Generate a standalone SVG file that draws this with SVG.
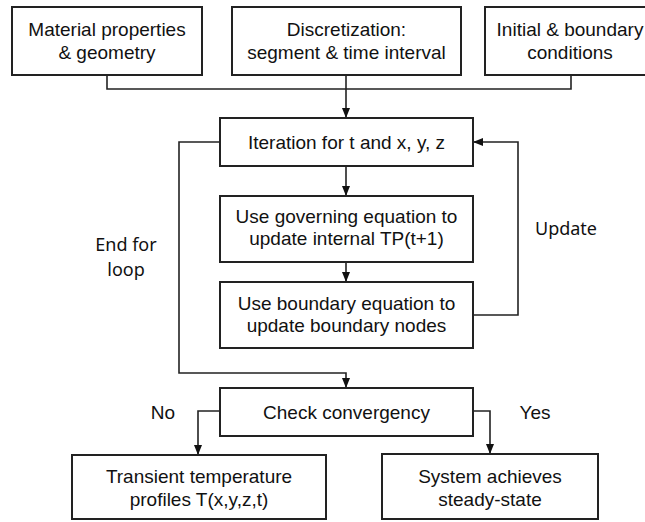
<svg xmlns="http://www.w3.org/2000/svg" width="645" height="522" viewBox="0 0 645 522">
  <defs>
    <marker id="arrow" viewBox="0 0 10 8" refX="10" refY="4" markerWidth="10" markerHeight="8" markerUnits="userSpaceOnUse" orient="auto">
      <path d="M0,0 L10,4 L0,8 Z" fill="#111"/>
    </marker>
    <style>
      .box { fill: #fff; stroke: #222; stroke-width: 2; }
      .t { font-family: "Liberation Sans", Arial, sans-serif; font-size: 19px; fill: #111; text-anchor: middle; }
      .lbl { font-family: "Noto Sans", "Open Sans", sans-serif; font-size: 18px; fill: #111; text-anchor: middle; }
      .wire { fill: none; stroke: #222; stroke-width: 1.6; }
    </style>
  </defs>
  <rect width="645" height="522" fill="#fff"/>

  <!-- connectors -->
  <g id="connectors">
    <polyline class="wire" points="107,75 107,89 571,89 571,75"/>
    <line class="wire" x1="346" y1="75" x2="346" y2="118" stroke-width="2" marker-end="url(#arrow)"/>
    <line class="wire" x1="346" y1="166" x2="346" y2="196" marker-end="url(#arrow)"/>
    <line class="wire" x1="346" y1="262" x2="346" y2="282" marker-end="url(#arrow)"/>
    <polyline class="wire" points="220,142 179,142 179,373 346,373 346,388" marker-end="url(#arrow)"/>
    <polyline class="wire" points="473,315 518,315 518,142 473,142" marker-end="url(#arrow)"/>
    <polyline class="wire" points="220,411 198,411 198,455" marker-end="url(#arrow)"/>
    <polyline class="wire" points="473,411 490,411 490,454" marker-end="url(#arrow)"/>
  </g>

  <!-- loop labels -->
  <g id="labels">
    <text class="lbl" x="126" y="251">End for</text>
    <text class="lbl" x="126" y="276">loop</text>
    <text class="lbl" x="566" y="235">Update</text>
    <text class="t" x="163" y="419">No</text>
    <text class="t" x="535" y="419">Yes</text>
  </g>

  <g id="material">
    <rect class="box" x="12" y="7" width="190" height="68"/>
    <text class="t" x="107" y="36">Material properties</text>
    <text class="t" x="107" y="59">&amp; geometry</text>
  </g>

  <g id="discretization">
    <rect class="box" x="232" y="7" width="229" height="68"/>
    <text class="t" x="346.5" y="36">Discretization:</text>
    <text class="t" x="346.5" y="59">segment &amp; time interval</text>
  </g>

  <g id="initial">
    <rect class="box" x="485" y="7" width="172" height="68"/>
    <text class="t" x="570" y="36">Initial &amp; boundary</text>
    <text class="t" x="570" y="59">conditions</text>
  </g>

  <g id="iteration">
    <rect class="box" x="220" y="118" width="253" height="48"/>
    <text class="t" x="346.5" y="149">Iteration for t and x, y, z</text>
  </g>

  <g id="governing">
    <rect class="box" x="220" y="196" width="253" height="66"/>
    <text class="t" x="346.5" y="223">Use governing equation to</text>
    <text class="t" x="346.5" y="245">update internal TP(t+1)</text>
  </g>

  <g id="boundary">
    <rect class="box" x="220" y="282" width="253" height="66"/>
    <text class="t" x="346.5" y="310">Use boundary equation to</text>
    <text class="t" x="346.5" y="332">update boundary nodes</text>
  </g>

  <g id="convergency">
    <rect class="box" x="220" y="388" width="253" height="48"/>
    <text class="t" x="346.5" y="419">Check convergency</text>
  </g>

  <g id="transient">
    <rect class="box" x="72" y="455" width="254" height="64"/>
    <text class="t" x="199" y="483">Transient temperature</text>
    <text class="t" x="199" y="506">profiles T(x,y,z,t)</text>
  </g>

  <g id="steady">
    <rect class="box" x="382" y="454" width="216" height="65"/>
    <text class="t" x="490" y="483">System achieves</text>
    <text class="t" x="490" y="506">steady-state</text>
  </g>
</svg>
